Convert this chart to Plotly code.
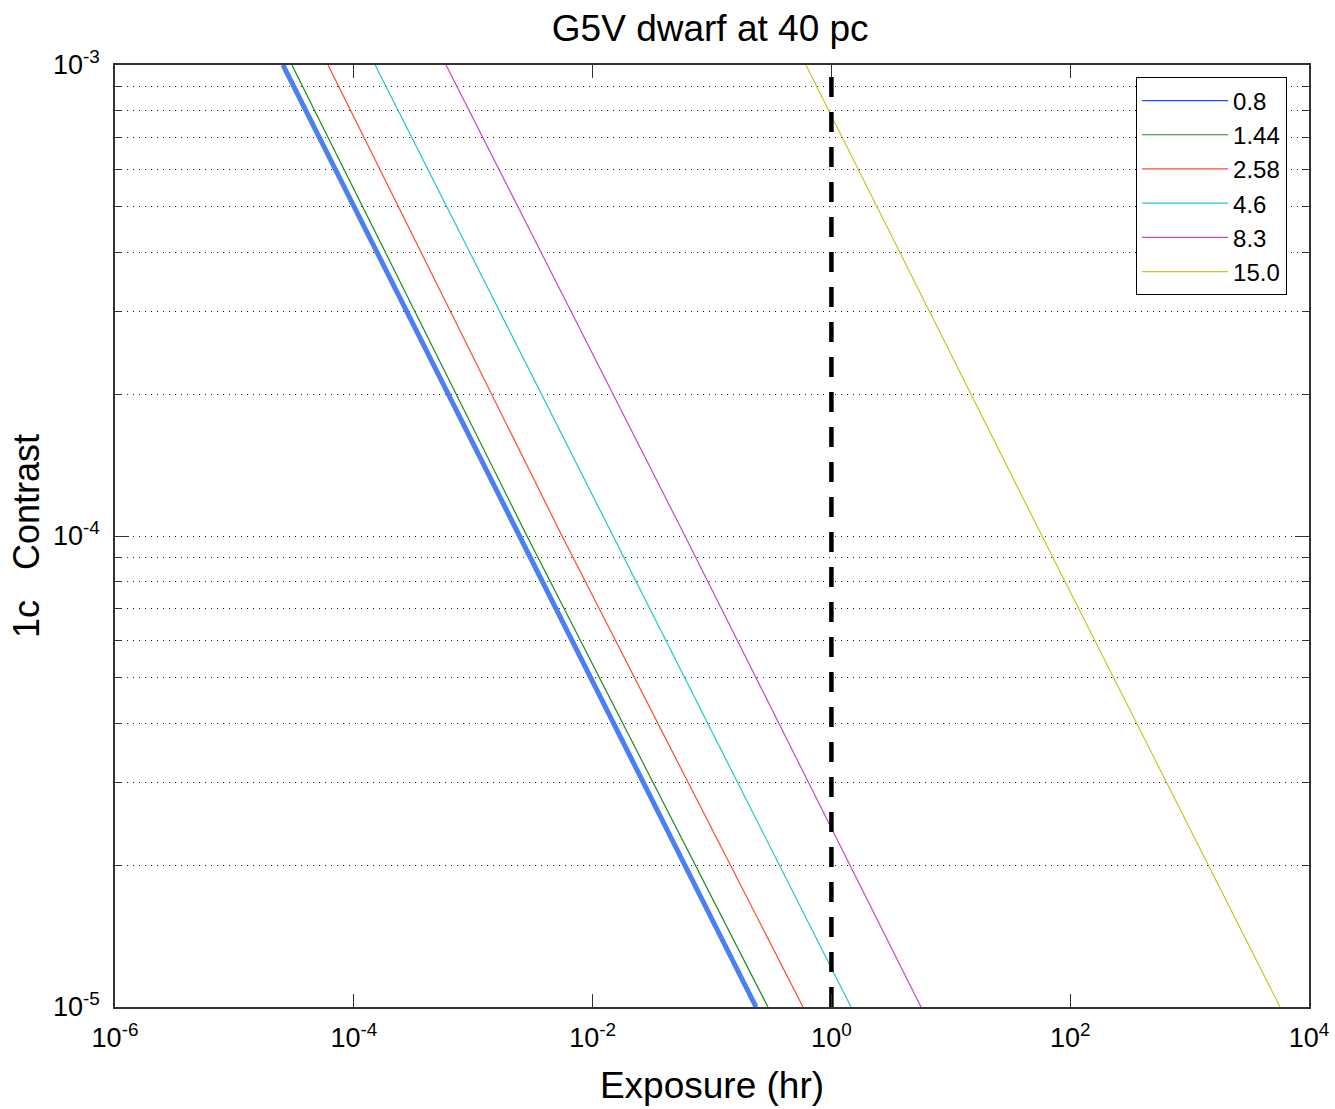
import plotly.graph_objects as go

# Contrast levels sampled (1-sigma contrast)
contrast = [1e-3, 1e-4, 1e-5]

# Exposure (hr) needed at each contrast, per series
series_names = ["0.8", "1.44", "2.58", "4.6", "8.3", "15.0"]
exp_08 = [2.55e-5, 2.42e-3, 0.234]
exp_144 = [3.03e-5, 2.82e-3, 0.294]
exp_258 = [6.08e-5, 5.55e-3, 0.578]
exp_46 = [1.51e-4, 1.48e-2, 1.46]
exp_83 = [5.92e-4, 5.94e-2, 5.63]
exp_150 = [0.612, 58.1, 5715.0]

# Reference exposure line (1 hr)
ref_exposure = [1.0, 1.0]
ref_contrast = [1e-5, 1e-3]

# Tick labels
x_tickvals = [1e-6, 1e-4, 1e-2, 1e0, 1e2, 1e4]
x_ticktext = ["10<sup>-6</sup>", "10<sup>-4</sup>", "10<sup>-2</sup>",
              "10<sup>0</sup>", "10<sup>2</sup>", "10<sup>4</sup>"]
y_tickvals = [1e-5, 1e-4, 1e-3]
y_ticktext = ["10<sup>-5</sup>", "10<sup>-4</sup>", "10<sup>-3</sup>"]

colors = ["#1f4dff", "#1a8a1a", "#ff4a2a", "#22c8c8", "#cc44cc", "#c8c824"]
all_series = [exp_08, exp_144, exp_258, exp_46, exp_83, exp_150]

fig = go.Figure()
for name, xs, c in zip(series_names, all_series, colors):
    fig.add_trace(go.Scatter(x=xs, y=contrast, mode="lines", name=name,
                             line=dict(color=c, width=1.2)))

# thick highlighted line on top of the first series
fig.add_trace(go.Scatter(x=exp_08, y=contrast, mode="lines", showlegend=False,
                         line=dict(color="#4a80f0", width=5)))

fig.add_trace(go.Scatter(x=ref_exposure, y=ref_contrast, mode="lines", showlegend=False,
                         line=dict(color="black", width=4.5, dash="20px,15px")))

font_family = "Liberation Sans, Arial, sans-serif"
grid_dash = "1px,5px"

fig.update_layout(
    width=1335, height=1109,
    margin=dict(l=115, r=26, t=65, b=102),
    paper_bgcolor="white", plot_bgcolor="white",
    font=dict(family=font_family, color="black"),
    title=dict(text="G5V dwarf at 40 pc", x=0.532, xanchor="center", y=0.975, yanchor="middle",
               font=dict(size=37, family=font_family)),
    showlegend=True,
    legend=dict(x=0.855, y=0.987, xanchor="left", yanchor="top",
                bordercolor="black", borderwidth=1.2, bgcolor="white",
                itemwidth=86, entrywidth=158, entrywidthmode="pixels",
                font=dict(size=24, family=font_family), tracegroupgap=0),
    xaxis=dict(
        type="log", range=[-6, 4], tickvals=x_tickvals, ticktext=x_ticktext,
        ticks="inside", ticklen=13, tickcolor="#333", tickwidth=1.2,
        showline=True, linecolor="#333", linewidth=1.5, mirror="ticks",
        showgrid=False, zeroline=False, automargin=False,
        ticklabelstandoff=6,
        tickfont=dict(size=27, family=font_family),
        title=dict(text="Exposure (hr)", font=dict(size=37, family=font_family), standoff=20),
    ),
    yaxis=dict(
        type="log", range=[-5, -3], tickvals=y_tickvals, ticktext=y_ticktext,
        ticks="inside", ticklen=14, tickcolor="#333", tickwidth=1.2,
        showline=True, linecolor="#333", linewidth=1.5, mirror="ticks",
        showgrid=True, gridcolor="#222", griddash=grid_dash, gridwidth=1,
        zeroline=False, automargin=False,
        ticklabelstandoff=8,
        tickfont=dict(size=27, family=font_family),
        minor=dict(dtick="D1", ticks="inside", ticklen=7, tickcolor="#333",
                   showgrid=True, gridcolor="#222", griddash=grid_dash, gridwidth=1),
        title=dict(text="1c   Contrast", font=dict(size=36, family=font_family), standoff=2),
    ),
)

fig.write_html("out.html", config={"displayModeBar": False},
               post_script="document.body.style.margin='0';document.body.style.overflow='hidden';")
